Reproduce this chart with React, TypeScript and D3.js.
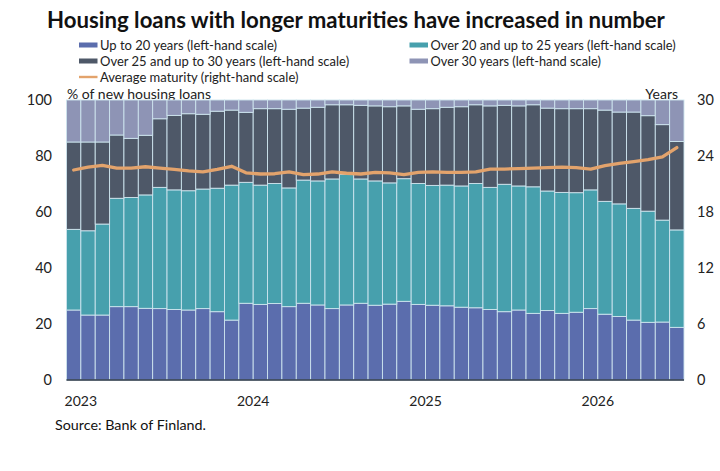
import React from "react";
import * as d3 from "d3";

const months: string[] = d3.range(43).map((i) => {
  const y = 2023 + Math.floor(i / 12);
  const m = (i % 12) + 1;
  return `${y}-${String(m).padStart(2, "0")}`;
});

const upTo20: number[] = [
  25.0, 23.2, 23.2, 26.2, 26.2, 25.6, 25.5, 25.2, 25.0, 25.5, 24.4, 21.4,
  27.4, 27.0, 27.3, 26.2, 27.4, 26.8, 25.5, 26.8, 27.4, 26.7, 27.1, 28.1,
  27.0, 26.7, 26.5, 26.0, 25.8, 25.2, 24.4, 25.0, 23.8, 24.8, 23.8, 24.2,
  25.5, 23.5, 22.7, 21.4, 20.6, 20.7, 18.8,
];
const over20to25: number[] = [
  28.8, 30.1, 32.5, 38.7, 39.0, 40.5, 43.3, 42.7, 42.6, 42.7, 44.1, 48.2,
  43.2, 42.6, 42.9, 42.4, 44.0, 44.3, 46.3, 46.7, 44.4, 44.4, 43.3, 43.8,
  43.2, 42.8, 43.1, 43.3, 44.4, 43.6, 45.5, 44.3, 45.2, 42.7, 43.2, 42.7,
  42.4, 40.3, 40.2, 39.9, 39.7, 36.4, 34.8,
];
const over25to30: number[] = [
  31.2, 31.7, 29.3, 22.6, 21.1, 21.3, 24.5, 26.6, 27.5, 26.7, 27.5, 26.8,
  25.0, 27.3, 26.7, 28.1, 25.7, 26.3, 26.5, 24.8, 26.3, 26.8, 27.2, 26.0,
  26.5, 27.4, 27.8, 28.3, 28.1, 29.1, 28.2, 28.6, 29.3, 29.6, 29.9, 30.0,
  29.0, 32.6, 32.8, 34.4, 34.1, 34.1, 31.6,
];
const over30: number[] = [
  15.0, 15.0, 15.0, 12.5, 13.7, 12.6, 6.7, 5.5, 4.9, 5.1, 4.0, 3.6,
  4.4, 3.1, 3.1, 3.3, 2.9, 2.6, 1.7, 1.7, 1.9, 2.1, 2.4, 2.1,
  3.3, 3.1, 2.6, 2.4, 1.7, 2.1, 1.9, 2.1, 1.7, 2.9, 3.1, 3.1,
  3.1, 3.6, 4.3, 4.3, 5.6, 8.8, 14.8,
];
const avgMaturity: number[] = [
  22.5, 22.8, 23.0, 22.7, 22.7, 22.85, 22.7, 22.57, 22.4, 22.3, 22.57, 22.9,
  22.2, 22.07, 22.1, 22.3, 22.0, 22.07, 22.3, 22.15, 22.07, 22.25, 22.2, 22.0,
  22.25, 22.3, 22.25, 22.25, 22.3, 22.6, 22.6, 22.65, 22.7, 22.75, 22.8, 22.75,
  22.6, 22.96, 23.2, 23.4, 23.6, 23.9, 24.9,
];

const seriesNames: string[] = [
  "Up to 20 years (left-hand scale)",
  "Over 20 and up to 25 years (left-hand scale)",
  "Over 25 and up to 30 years (left-hand scale)",
  "Over 30 years (left-hand scale)",
];
const lineName = "Average maturity (right-hand scale)";
const leftTicks: number[] = [0, 20, 40, 60, 80, 100];
const rightTicks: number[] = [0, 6, 12, 18, 24, 30];
const yearLabels: string[] = ["2023", "2024", "2025", "2026"];

const colors = ["#5b6dad", "#47a0ad", "#4e5868", "#8e94b5"];
const lineColor = "#e3a36c";
const sepColor = "#cde4ee";
const font = "Lato, 'Open Sans', sans-serif";

export default function App() {
  const W = 720;
  const H = 471;
  const left = 66.5;
  const right = 684;
  const top = 100;
  const bottom = 380;

  const x = d3.scaleBand<string>().domain(months).range([left, right]).padding(0);
  const y = d3.scaleLinear().domain([0, 100]).range([bottom, top]);
  const y2 = d3.scaleLinear().domain([0, 30]).range([bottom, top]);

  const rows = months.map((m, i) => ({
    m,
    s0: upTo20[i],
    s1: over20to25[i],
    s2: over25to30[i],
    s3: over30[i],
  }));
  const stack = d3.stack<any>().keys(["s0", "s1", "s2", "s3"]);
  const stacked = stack(rows);

  const line = d3
    .line<number>()
    .x((_, i) => (x(months[i]) as number) + x.bandwidth() / 2)
    .y((d) => y2(d))
    .curve(d3.curveLinear);

  const legendLeft = [
    { label: seriesNames[0], color: colors[0], type: "bar" },
    { label: seriesNames[2], color: colors[2], type: "bar" },
    { label: lineName, color: lineColor, type: "line" },
  ];
  const legendRight = [
    { label: seriesNames[1], color: colors[1], type: "bar" },
    { label: seriesNames[3], color: colors[3], type: "bar" },
  ];
  const rowY = [45, 61, 77];

  const renderLegend = (items: any[], sx: number, fs: number) =>
    items.map((it, i) => (
      <g key={it.label}>
        {it.type === "bar" ? (
          <rect x={sx} y={rowY[i] - 2.5} width={18.5} height={5} fill={it.color} />
        ) : (
          <rect x={sx} y={rowY[i] - 1.2} width={18.5} height={2.4} fill={it.color} />
        )}
        <text x={sx + 21} y={rowY[i] + 4.5} fontSize={fs} fill="#222" fontFamily={font}>
          {it.label}
        </text>
      </g>
    ));

  return (
    <svg
      width={W}
      height={H}
      style={{ position: "absolute", left: 0, top: 0, background: "#fff" }}
    >
      <text
        x={356}
        y={28}
        textAnchor="middle"
        fontSize={22.2}
        fontWeight="bold"
        fill="#111"
        fontFamily={font}
      >
        Housing loans with longer maturities have increased in number
      </text>

      {renderLegend(legendLeft, 79, 13)}
      {renderLegend(legendRight, 409.5, 12.8)}

      <text x={67} y={98.5} fontSize={14} fill="#222" fontFamily={font}>
        % of new housing loans
      </text>
      <text x={678} y={98.5} fontSize={14} fill="#222" textAnchor="end" fontFamily={font}>
        Years
      </text>

      {stacked.map((layer, li) => (
        <g key={li}>
          {layer.map((d, i) => (
            <rect
              key={i}
              x={x(months[i]) as number}
              y={y(d[1])}
              width={x.bandwidth()}
              height={y(d[0]) - y(d[1])}
              fill={colors[li]}
              stroke={sepColor}
              strokeWidth={0.9}
            />
          ))}
        </g>
      ))}

      <path
        d={line(avgMaturity) || ""}
        fill="none"
        stroke={lineColor}
        strokeWidth={3.3}
        strokeLinejoin="round"
        strokeLinecap="round"
      />

      <line x1={left} x2={right} y1={bottom} y2={bottom} stroke="#2a3443" strokeWidth={1.5} />

      {leftTicks.map((t) => (
        <text
          key={t}
          x={52}
          y={y(t) + 5}
          textAnchor="end"
          fontSize={14.5}
          fill="#222"
          fontFamily={font}
        >
          {t}
        </text>
      ))}
      {rightTicks.map((t) => (
        <text key={t} x={697} y={y2(t) + 5} fontSize={14.5} fill="#222" fontFamily={font}>
          {t}
        </text>
      ))}

      {yearLabels.map((yl, i) => {
        const idx = i * 12;
        const xx = (x(months[idx]) as number) + x.bandwidth();
        return (
          <text
            key={yl}
            x={xx}
            y={406}
            textAnchor="middle"
            fontSize={14}
            fill="#222"
            fontFamily={font}
          >
            {yl}
          </text>
        );
      })}

      <text x={55} y={430} fontSize={14.3} fill="#111" fontFamily={font}>
        Source: Bank of Finland.
      </text>
    </svg>
  );
}
